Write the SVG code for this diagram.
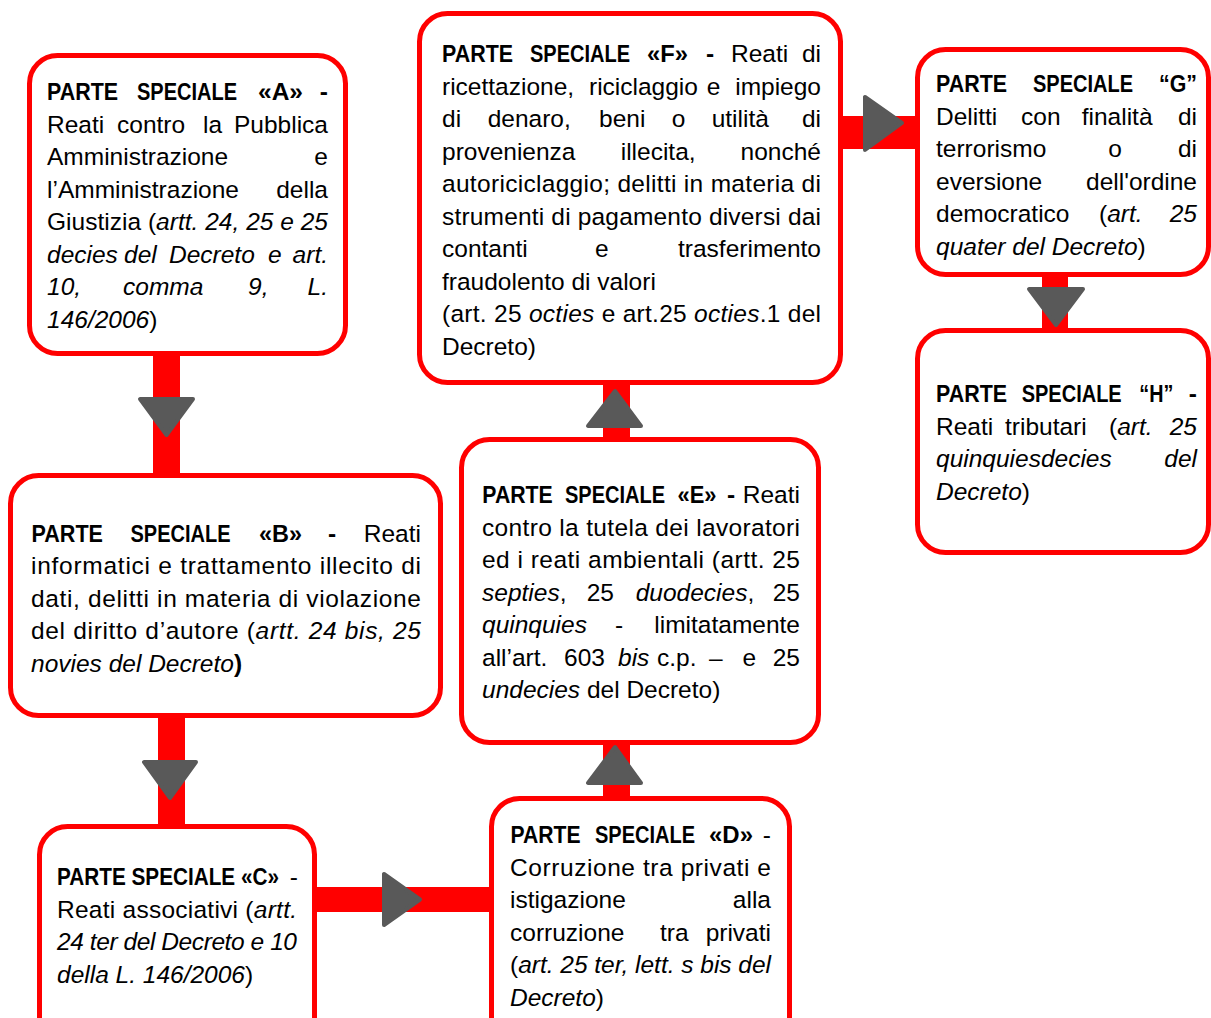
<svg xmlns="http://www.w3.org/2000/svg" width="1211" height="1018" viewBox="0 0 1211 1018">
<style>
.box{fill:#fff;stroke:#ff0000;stroke-width:5}
.bar{fill:#ff0000}
.head{fill:#595959;stroke:#595959;stroke-width:4;stroke-linejoin:round}
.t{font-family:"Liberation Sans",Arial,sans-serif;font-size:24.5px;fill:#000}
.b{font-weight:bold}
.i{font-style:italic}
.e{text-anchor:end}
</style>
<rect width="1211" height="1018" fill="#fff"/>
<g id="connectors">
<rect class="bar" x="153" y="350" width="27" height="130"/>
<polygon class="head" points="140,399 193,399 166.5,435"/>
<rect class="bar" x="158" y="712" width="27" height="118"/>
<polygon class="head" points="144,762 196,762 170,798"/>
<rect class="bar" x="312" y="887" width="184" height="25"/>
<polygon class="head" points="384,874 384,925 420,899.5"/>
<rect class="bar" x="603" y="738" width="27" height="65"/>
<polygon class="head" points="588,783 641,783 615,747"/>
<rect class="bar" x="603" y="380" width="27" height="64"/>
<polygon class="head" points="588,426 641,426 615,391"/>
<rect class="bar" x="838" y="116" width="84" height="33"/>
<polygon class="head" points="865,97 865,150 902,123"/>
<rect class="bar" x="1042" y="272" width="26" height="64"/>
<polygon class="head" points="1029,289 1083,289 1056,325"/>
</g>
<g id="node-a">
<rect class="box" x="29.5" y="55.5" width="316" height="298" rx="28"/>
<text class="t b" x="47" y="100" textLength="71" lengthAdjust="spacingAndGlyphs">PARTE</text>
<text class="t b" x="137" y="100" textLength="100" lengthAdjust="spacingAndGlyphs">SPECIALE</text>
<text class="t b" x="258" y="100" textLength="45" lengthAdjust="spacingAndGlyphs">«A»</text>
<text class="t b e" x="328" y="100">-</text>
<text class="t" y="132.5"><tspan x="47">Reati</tspan><tspan x="117">contro</tspan><tspan x="203">la</tspan></text>
<text class="t e" x="328" y="132.5">Pubblica</text>
<text class="t" x="47" y="165">Amministrazione</text>
<text class="t e" x="328" y="165">e</text>
<text class="t" x="47" y="197.5">l’Amministrazione</text>
<text class="t e" x="328" y="197.5">della</text>
<text class="t" x="47" y="230" textLength="281" lengthAdjust="spacing">Giustizia (<tspan class="i">artt. 24, 25 e 25</tspan></text>
<text class="t i" y="262.5"><tspan x="47">decies</tspan><tspan x="124">del</tspan><tspan x="169">Decreto</tspan><tspan x="268">e</tspan></text>
<text class="t i e" x="328" y="262.5">art.</text>
<text class="t i" y="295"><tspan x="47">10,</tspan><tspan x="123">comma</tspan><tspan x="248">9,</tspan></text>
<text class="t i e" x="328" y="295">L.</text>
<text class="t" x="47" y="327.5"><tspan class="i">146/2006</tspan>)</text>
</g>
<g id="node-b">
<rect class="box" x="10.5" y="475.5" width="430" height="240" rx="28"/>
<text class="t b" x="31.5" y="541.5" textLength="71.5" lengthAdjust="spacingAndGlyphs">PARTE</text>
<text class="t b" x="130.5" y="541.5" textLength="100" lengthAdjust="spacingAndGlyphs">SPECIALE</text>
<text class="t b" x="259" y="541.5" textLength="43" lengthAdjust="spacingAndGlyphs">«B»</text>
<text class="t b" x="328" y="541.5">-</text>
<text class="t e" x="421" y="541.5">Reati</text>
<text class="t" x="31" y="574" textLength="390" lengthAdjust="spacing">informatici e trattamento illecito di</text>
<text class="t" x="31" y="606.5" textLength="390" lengthAdjust="spacing">dati, delitti in materia di violazione</text>
<text class="t" x="31" y="639" textLength="390" lengthAdjust="spacing">del diritto d’autore (<tspan class="i">artt. 24 bis, 25</tspan></text>
<text class="t" x="31" y="671.5"><tspan class="i">novies del Decreto</tspan><tspan class="b">)</tspan></text>
</g>
<g id="node-c">
<rect class="box" x="39.5" y="826.5" width="275" height="230" rx="28"/>
<text class="t b" x="57" y="885" textLength="222" lengthAdjust="spacingAndGlyphs">PARTE SPECIALE «C»</text>
<text class="t e" x="298" y="885">-</text>
<text class="t" x="57" y="917.5" textLength="240" lengthAdjust="spacing">Reati associativi (<tspan class="i">artt.</tspan></text>
<text class="t i" x="57" y="950" textLength="240" lengthAdjust="spacing">24 ter del Decreto e 10</text>
<text class="t" x="57" y="982.5"><tspan class="i">della L. 146/2006</tspan>)</text>
</g>
<g id="node-d">
<rect class="box" x="491.5" y="798.5" width="298" height="250" rx="28"/>
<text class="t b" x="510.5" y="843" textLength="70" lengthAdjust="spacingAndGlyphs">PARTE</text>
<text class="t b" x="595" y="843" textLength="100" lengthAdjust="spacingAndGlyphs">SPECIALE</text>
<text class="t b" x="709" y="843" textLength="44" lengthAdjust="spacingAndGlyphs">«D»</text>
<text class="t e" x="771" y="843">-</text>
<text class="t" x="510" y="875.5" textLength="261" lengthAdjust="spacing">Corruzione tra privati e</text>
<text class="t" x="510" y="908">istigazione</text>
<text class="t e" x="771" y="908">alla</text>
<text class="t" y="940.5"><tspan x="510">corruzione</tspan><tspan x="660">tra</tspan></text>
<text class="t e" x="771" y="940.5">privati</text>
<text class="t" x="510" y="973" textLength="261" lengthAdjust="spacing">(<tspan class="i">art. 25 ter, lett. s bis del</tspan></text>
<text class="t" x="510" y="1005.5"><tspan class="i">Decreto</tspan>)</text>
</g>
<g id="node-e">
<rect class="box" x="461.5" y="439.5" width="357" height="303" rx="28"/>
<text class="t b" x="482.3" y="503" textLength="70.4" lengthAdjust="spacingAndGlyphs">PARTE</text>
<text class="t b" x="565" y="503" textLength="100" lengthAdjust="spacingAndGlyphs">SPECIALE</text>
<text class="t b" x="677.5" y="503" textLength="39" lengthAdjust="spacingAndGlyphs">«E»</text>
<text class="t b" x="727" y="503">-</text>
<text class="t e" x="800" y="503">Reati</text>
<text class="t" x="482" y="535.5" textLength="318" lengthAdjust="spacing">contro la tutela dei lavoratori</text>
<text class="t" x="482" y="568" textLength="318" lengthAdjust="spacing">ed i reati ambientali (artt. 25</text>
<text class="t" y="600.5"><tspan x="482" class="i">septies</tspan>,<tspan x="586.7">25</tspan><tspan x="635.7" class="i">duodecies</tspan>,</text>
<text class="t e" x="800" y="600.5">25</text>
<text class="t" y="633"><tspan x="482" class="i">quinquies</tspan><tspan x="615">-</tspan></text>
<text class="t e" x="800" y="633">limitatamente</text>
<text class="t" y="665.5"><tspan x="482">all’art.</tspan><tspan x="564">603</tspan><tspan x="618" class="i">bis</tspan><tspan x="657">c.p.</tspan><tspan x="709">–</tspan><tspan x="742.5">e</tspan></text>
<text class="t e" x="800" y="665.5">25</text>
<text class="t" x="482" y="698"><tspan class="i">undecies</tspan> del Decreto)</text>
</g>
<g id="node-f">
<rect class="box" x="419.5" y="13.5" width="421" height="369" rx="28"/>
<text class="t b" x="442" y="62" textLength="71" lengthAdjust="spacingAndGlyphs">PARTE</text>
<text class="t b" x="530" y="62" textLength="100" lengthAdjust="spacingAndGlyphs">SPECIALE</text>
<text class="t b" x="647" y="62" textLength="41" lengthAdjust="spacingAndGlyphs">«F»</text>
<text class="t b" x="706" y="62">-</text>
<text class="t" x="731" y="62">Reati</text>
<text class="t e" x="821" y="62">di</text>
<text class="t" y="94.5"><tspan x="442">ricettazione,</tspan><tspan x="589">riciclaggio</tspan><tspan x="706.7">e</tspan></text>
<text class="t e" x="821" y="94.5">impiego</text>
<text class="t" y="127"><tspan x="442">di</tspan><tspan x="487.7">denaro,</tspan><tspan x="599">beni</tspan><tspan x="671.7">o</tspan><tspan x="711.7">utilità</tspan></text>
<text class="t e" x="821" y="127">di</text>
<text class="t" y="159.5"><tspan x="442">provenienza</tspan><tspan x="620.7">illecita,</tspan></text>
<text class="t e" x="821" y="159.5">nonché</text>
<text class="t" x="442" y="192" textLength="379" lengthAdjust="spacing">autoriciclaggio; delitti in materia di</text>
<text class="t" x="442" y="224.5" textLength="379" lengthAdjust="spacing">strumenti di pagamento diversi dai</text>
<text class="t" y="257"><tspan x="442">contanti</tspan><tspan x="595">e</tspan></text>
<text class="t e" x="821" y="257">trasferimento</text>
<text class="t" x="442" y="289.5">fraudolento di valori</text>
<text class="t" x="442" y="322" textLength="379" lengthAdjust="spacing">(art. 25 <tspan class="i">octies</tspan> e art.25 <tspan class="i">octies</tspan>.1 del</text>
<text class="t" x="442" y="354.5">Decreto)</text>
</g>
<g id="node-g">
<rect class="box" x="917.5" y="49.5" width="291" height="225" rx="28"/>
<text class="t b" x="936" y="92" textLength="71" lengthAdjust="spacingAndGlyphs">PARTE</text>
<text class="t b" x="1033" y="92" textLength="100" lengthAdjust="spacingAndGlyphs">SPECIALE</text>
<text class="t b" x="1159" y="92" textLength="38" lengthAdjust="spacingAndGlyphs">“G”</text>
<text class="t" y="124.5"><tspan x="936">Delitti</tspan><tspan x="1021">con</tspan><tspan x="1081.7">finalità</tspan></text>
<text class="t e" x="1197" y="124.5">di</text>
<text class="t" y="157"><tspan x="936">terrorismo</tspan><tspan x="1108.3">o</tspan></text>
<text class="t e" x="1197" y="157">di</text>
<text class="t" x="936" y="189.5">eversione</text>
<text class="t e" x="1197" y="189.5">dell'ordine</text>
<text class="t" y="222"><tspan x="936">democratico</tspan><tspan x="1099">(</tspan><tspan class="i">art.</tspan></text>
<text class="t i e" x="1197" y="222">25</text>
<text class="t" x="936" y="254.5"><tspan class="i">quater del Decreto</tspan>)</text>
</g>
<g id="node-h">
<rect class="box" x="917.5" y="330.5" width="291" height="222" rx="28"/>
<text class="t b" x="936" y="402" textLength="71" lengthAdjust="spacingAndGlyphs">PARTE</text>
<text class="t b" x="1021.7" y="402" textLength="100" lengthAdjust="spacingAndGlyphs">SPECIALE</text>
<text class="t b" x="1139.3" y="402" textLength="34" lengthAdjust="spacingAndGlyphs">“H”</text>
<text class="t b e" x="1197" y="402">-</text>
<text class="t" y="434.5"><tspan x="936">Reati</tspan><tspan x="1005">tributari</tspan><tspan x="1109">(</tspan><tspan class="i">art.</tspan></text>
<text class="t i e" x="1197" y="434.5">25</text>
<text class="t i" x="936" y="467">quinquiesdecies</text>
<text class="t i e" x="1197" y="467">del</text>
<text class="t" x="936" y="499.5"><tspan class="i">Decreto</tspan>)</text>
</g>
</svg>
